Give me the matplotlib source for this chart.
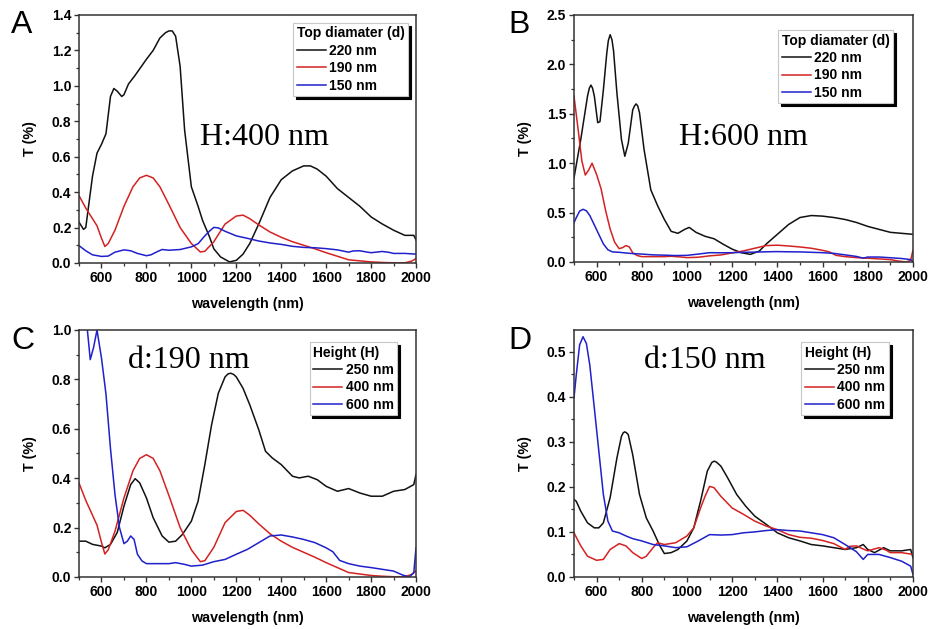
import matplotlib

matplotlib.use("Agg")

import matplotlib.pyplot as plt
from matplotlib.ticker import MultipleLocator

plt.rcParams['font.family'] = ['Liberation Sans', 'DejaVu Sans']

# ---- data (T in %, wavelength in nm) ----
# d: top diameter, H: height
wl_d220_h400 = [500, 520, 530, 560, 580, 600, 620, 640, 655, 670, 690, 700, 720, 750, 800, 830, 860,
                885, 900, 915, 930, 950, 970, 1000, 1030, 1050, 1080, 1100, 1130, 1170, 1200, 1230,
                1260, 1300, 1350, 1400, 1450, 1500, 1530, 1560, 1600, 1650, 1700, 1750, 1800, 1850,
                1900, 1950, 1990, 2000]
t_d220_h400 = [0.23, 0.19, 0.20, 0.49, 0.62, 0.67, 0.73, 0.94, 0.985, 0.97, 0.94, 0.95, 1.01, 1.06,
               1.15, 1.20, 1.27, 1.30, 1.31, 1.31, 1.28, 1.11, 0.75, 0.43, 0.32, 0.24, 0.15, 0.08,
               0.034, 0.006, 0.015, 0.05, 0.11, 0.22, 0.37, 0.47, 0.52, 0.548, 0.548, 0.53, 0.49,
               0.42, 0.37, 0.32, 0.26, 0.22, 0.185, 0.156, 0.156, 0.13]

wl_d190_h400 = [500, 530, 560, 580, 600, 615, 630, 660, 700, 740, 770, 800, 830, 860, 900, 950,
                1000, 1040, 1060, 1100, 1150, 1200, 1230, 1260, 1300, 1350, 1400, 1450, 1500, 1550,
                1600, 1650, 1700, 1750, 1800, 1850, 1900, 1950, 1980, 2000]
t_d190_h400 = [0.38, 0.31, 0.25, 0.21, 0.14, 0.093, 0.11, 0.185, 0.32, 0.43, 0.48, 0.495, 0.48,
               0.43, 0.33, 0.20, 0.11, 0.062, 0.066, 0.12, 0.22, 0.265, 0.27, 0.25, 0.215, 0.175,
               0.145, 0.12, 0.10, 0.08, 0.058, 0.038, 0.018, 0.012, 0.006, 0.003, 0.001, 0.001,
               0.01, 0.025]

wl_d150_h400 = [500, 530, 560, 600, 630, 660, 700, 730, 760, 800, 820, 850, 870, 900, 950, 1000,
                1030, 1060, 1080, 1100, 1120, 1150, 1200, 1250, 1300, 1350, 1400, 1450, 1500, 1550,
                1600, 1650, 1700, 1720, 1750, 1780, 1800, 1850, 1880, 1900, 1950, 2000]
t_d150_h400 = [0.098, 0.069, 0.046, 0.037, 0.039, 0.061, 0.074, 0.069, 0.054, 0.041, 0.046, 0.065,
               0.076, 0.072, 0.076, 0.091, 0.109, 0.153, 0.179, 0.201, 0.198, 0.179, 0.153, 0.139,
               0.124, 0.113, 0.105, 0.094, 0.088, 0.086, 0.081, 0.074, 0.061, 0.068, 0.069, 0.062,
               0.058, 0.065, 0.060, 0.054, 0.054, 0.05]

wl_d220_h600 = [500, 530, 560, 568, 575, 582, 590, 605, 615, 630, 645, 652, 660, 668, 675, 690, 710,
                725, 740, 760, 768, 775, 782, 790, 810, 840, 870, 900, 930, 960, 990, 1010, 1040,
                1080, 1120, 1160, 1200, 1240, 1280, 1320, 1350, 1400, 1450, 1500, 1550, 1600, 1650,
                1700, 1750, 1800, 1850, 1900, 1950, 2000]
t_d220_h600 = [0.85, 1.24, 1.68, 1.76, 1.79, 1.76, 1.68, 1.41, 1.42, 1.74, 2.11, 2.24, 2.30, 2.25,
               2.14, 1.71, 1.24, 1.07, 1.20, 1.54, 1.58, 1.60, 1.58, 1.51, 1.14, 0.73, 0.57, 0.43,
               0.31, 0.29, 0.33, 0.35, 0.30, 0.26, 0.235, 0.18, 0.13, 0.094, 0.077, 0.11, 0.18,
               0.28, 0.38, 0.45, 0.47, 0.464, 0.45, 0.43, 0.40, 0.36, 0.33, 0.30, 0.29, 0.28]

wl_d190_h600 = [500, 520, 535, 550, 565, 580, 600, 620, 640, 660, 680, 700, 715, 730, 745, 760, 780,
                800, 850, 900, 930, 970, 1000, 1050, 1100, 1150, 1200, 1250, 1300, 1350, 1400, 1450,
                1500, 1550, 1600, 1630, 1660, 1700, 1750, 1800, 1850, 1900, 1940, 1970, 1990, 2000]
t_d190_h600 = [1.68, 1.31, 1.02, 0.88, 0.93, 1.0, 0.886, 0.74, 0.52, 0.334, 0.20, 0.135, 0.145,
               0.166, 0.152, 0.092, 0.065, 0.054, 0.054, 0.054, 0.058, 0.051, 0.044, 0.048, 0.062,
               0.071, 0.092, 0.112, 0.139, 0.166, 0.17, 0.162, 0.152, 0.139, 0.118, 0.102, 0.067,
               0.054, 0.044, 0.038, 0.031, 0.024, 0.008, 0.0, 0.017, 0.118]

wl_d150_h600 = [500, 510, 525, 540, 555, 570, 590, 610, 630, 650, 670, 700, 730, 760, 800, 850, 900,
                950, 1000, 1050, 1100, 1150, 1200, 1250, 1300, 1350, 1400, 1450, 1500, 1550, 1600,
                1650, 1700, 1750, 1780, 1800, 1850, 1900, 1950, 1990, 2000]
t_d150_h600 = [0.397, 0.448, 0.515, 0.533, 0.518, 0.47, 0.375, 0.279, 0.183, 0.124, 0.102, 0.098,
               0.091, 0.085, 0.08, 0.072, 0.069, 0.065, 0.067, 0.08, 0.094, 0.093, 0.094, 0.098,
               0.10, 0.103, 0.105, 0.103, 0.102, 0.098, 0.094, 0.087, 0.072, 0.056, 0.039, 0.05,
               0.05, 0.043, 0.035, 0.024, 0.006]

wl_d190_h250 = [500, 530, 560, 600, 615, 640, 670, 700, 730, 750, 770, 800, 830, 870, 900, 930, 960,
                1000, 1030, 1060, 1090, 1120, 1150, 1163, 1175, 1188, 1200, 1230, 1260, 1300, 1330,
                1360, 1400, 1450, 1480, 1520, 1560, 1600, 1650, 1700, 1750, 1800, 1850, 1900, 1950,
                1990, 2000]
t_d190_h250 = [0.145, 0.145, 0.132, 0.125, 0.118, 0.132, 0.18, 0.287, 0.374, 0.398, 0.381, 0.32,
               0.24, 0.166, 0.141, 0.145, 0.172, 0.226, 0.307, 0.455, 0.616, 0.744, 0.81, 0.822,
               0.825, 0.82, 0.81, 0.764, 0.697, 0.596, 0.509, 0.482, 0.455, 0.408, 0.401, 0.408,
               0.394, 0.367, 0.347, 0.358, 0.34, 0.327, 0.327, 0.347, 0.354, 0.374, 0.415]

wl_d150_h250 = [500, 510, 530, 560, 590, 610, 630, 660, 690, 710, 718, 725, 732, 740, 760, 790, 820,
                850, 880, 900, 930, 960, 1000, 1030, 1060, 1090, 1110, 1120, 1130, 1150, 1180, 1220,
                1260, 1300, 1350, 1400, 1450, 1500, 1550, 1600, 1650, 1700, 1750, 1780, 1800, 1830,
                1870, 1900, 1950, 1990, 2000]
t_d150_h250 = [0.172, 0.168, 0.146, 0.12, 0.109, 0.109, 0.12, 0.176, 0.264, 0.312, 0.32, 0.322,
               0.32, 0.316, 0.271, 0.183, 0.131, 0.102, 0.069, 0.052, 0.054, 0.061, 0.08, 0.109,
               0.168, 0.235, 0.254, 0.257, 0.255, 0.246, 0.22, 0.183, 0.157, 0.135, 0.117, 0.098,
               0.087, 0.08, 0.072, 0.069, 0.065, 0.061, 0.065, 0.072, 0.061, 0.054, 0.065, 0.058,
               0.058, 0.061, 0.043]

BLACK = '#111111'
RED = '#d42222'
BLUE = '#2020cc'


def setup_panel(ax, ymax, ymajor, letter, letter_xy, note, note_xy, leg_title, labels, leg_anchor):
    ax.set_xlim(500, 2000)
    ax.set_ylim(0, ymax)
    ax.xaxis.set_major_locator(MultipleLocator(200))
    ax.xaxis.set_minor_locator(MultipleLocator(100))
    ax.yaxis.set_major_locator(MultipleLocator(ymajor))
    ax.yaxis.set_minor_locator(MultipleLocator(ymajor / 2))
    ax.tick_params(which='major', direction='out', length=3.5, width=1.0, color='#333333',
                   labelsize=10, pad=2, top=False, right=False)
    ax.tick_params(which='minor', direction='out', length=2, width=0.9, color='#333333',
                   top=False, right=False)
    for lab in ax.get_xticklabels() + ax.get_yticklabels():
        lab.set_fontweight('bold')
    for sp in ax.spines.values():
        sp.set_color('#333333')
        sp.set_linewidth(1.1)
    ax.set_xlabel('wavelength (nm)', fontsize=10.3, fontweight='bold', labelpad=9)
    ax.set_ylabel('T (%)', fontsize=10.3, fontweight='bold', labelpad=11)
    ax.text(note_xy[0], note_xy[1], note, transform=ax.transAxes, fontsize=23,
            family=['Liberation Serif', 'DejaVu Serif'], va='baseline', ha='left')
    fig.text(letter_xy[0], letter_xy[1], letter, fontsize=23, va='baseline', ha='left')
    leg = ax.legend(labels, title=leg_title, loc='upper right', bbox_to_anchor=leg_anchor,
                    borderaxespad=0, fancybox=False, frameon=True, edgecolor='#c8c8c8',
                    shadow={'color': 'black', 'alpha': 1.0},
                    prop={'weight': 'bold', 'size': 10},
                    title_fontproperties={'weight': 'bold', 'size': 10},
                    alignment='left', handlelength=2.1, handletextpad=0.25,
                    labelspacing=0.25, borderpad=0.25)
    leg.get_frame().set_linewidth(0.8)


fig = plt.figure(figsize=(9.33, 6.29), dpi=100)

ax_a = fig.add_axes([0.0847, 0.5819, 0.3612, 0.3943])
ax_b = fig.add_axes([0.6152, 0.5835, 0.3633, 0.3927])
ax_c = fig.add_axes([0.0847, 0.0827, 0.3612, 0.3927])
ax_d = fig.add_axes([0.6152, 0.0827, 0.3633, 0.3927])

# A: H = 400 nm, varying d
ax_a.plot(wl_d220_h400, t_d220_h400, color=BLACK, lw=1.1)
ax_a.plot(wl_d190_h400, t_d190_h400, color=RED, lw=1.1)
ax_a.plot(wl_d150_h400, t_d150_h400, color=BLUE, lw=1.1)
setup_panel(ax_a, 1.4, 0.2, 'A', (0.012, 0.9475), 'H:400 nm', (0.36, 0.476),
            'Top diamater (d)', ['220 nm', '190 nm', '150 nm'], (0.976, 0.968))

# B: H = 600 nm, varying d
ax_b.plot(wl_d220_h600, t_d220_h600, color=BLACK, lw=1.1)
ax_b.plot(wl_d190_h600, t_d190_h600, color=RED, lw=1.1)
ax_b.plot(wl_d150_h600, t_d150_h600, color=BLUE, lw=1.1)
setup_panel(ax_b, 2.5, 0.5, 'B', (0.545, 0.9475), 'H:600 nm', (0.31, 0.474),
            'Top diamater (d)', ['220 nm', '190 nm', '150 nm'], (0.941, 0.939))

# C: d = 190 nm, varying H
ax_c.plot(wl_d190_h250, t_d190_h250, color=BLACK, lw=1.1)
ax_c.plot(wl_d190_h400, t_d190_h400, color=RED, lw=1.1)
ax_c.plot(wl_d190_h600, t_d190_h600, color=BLUE, lw=1.1)
setup_panel(ax_c, 1.0, 0.2, 'C', (0.012, 0.445), 'd:190 nm', (0.145, 0.846),
            'Height (H)', ['250 nm', '400 nm', '600 nm'], (0.944, 0.951))

# D: d = 150 nm, varying H
ax_d.plot(wl_d150_h250, t_d150_h250, color=BLACK, lw=1.1)
ax_d.plot(wl_d150_h400, t_d150_h400, color=RED, lw=1.1)
ax_d.plot(wl_d150_h600, t_d150_h600, color=BLUE, lw=1.1)
setup_panel(ax_d, 0.548, 0.1, 'D', (0.545, 0.445), 'd:150 nm', (0.206, 0.846),
            'Height (H)', ['250 nm', '400 nm', '600 nm'], (0.929, 0.951))

fig.savefig('out.png', dpi=100, facecolor='white')
